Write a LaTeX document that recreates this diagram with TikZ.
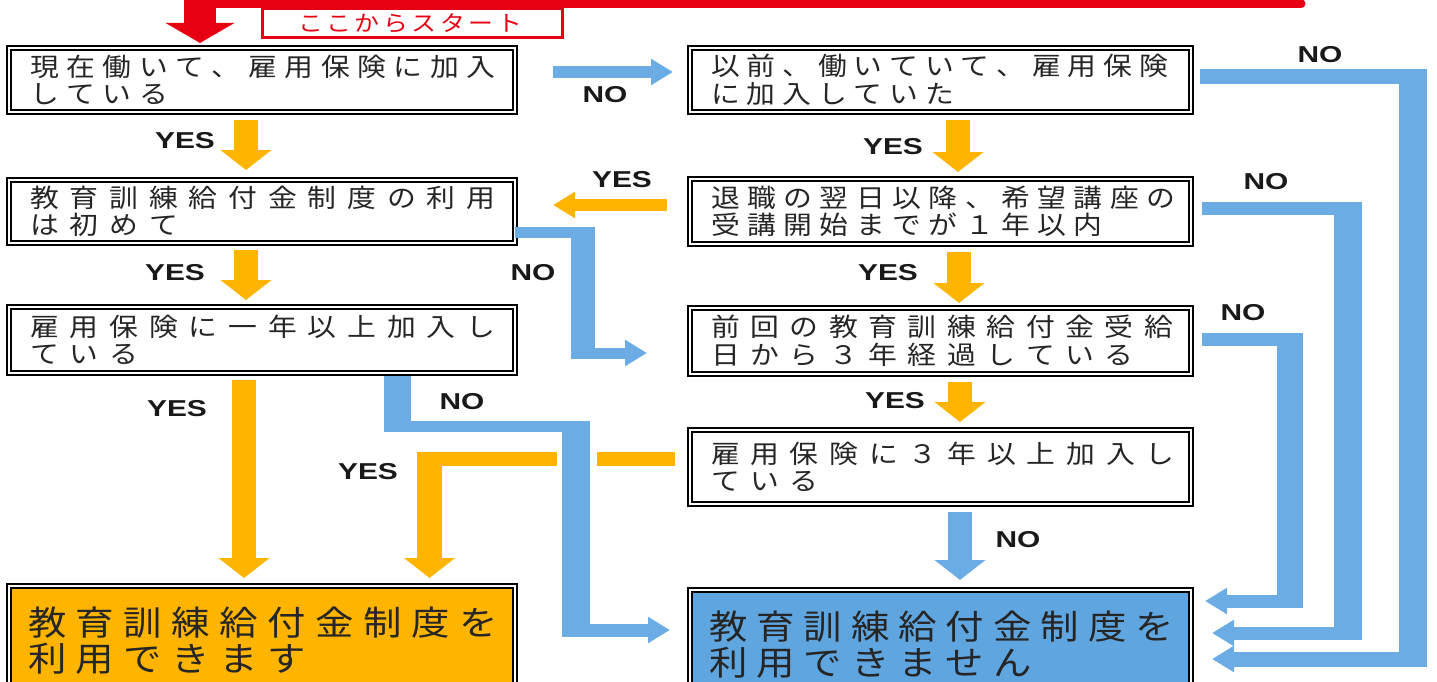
\documentclass[tikz,border=0pt]{standalone}
\usepackage{fontspec}
\usetikzlibrary{arrows.meta}

\newfontfamily\jfont[FakeStretch=1.13]{Noto Sans CJK JP}
\newfontfamily\lblfont[FakeStretch=1.3]{Liberation Sans}

\definecolor{jorange}{HTML}{FFB400}
\definecolor{jblue}{HTML}{6CACE4}
\definecolor{jbluebox}{HTML}{5FA5E0}
\definecolor{jred}{HTML}{E60012}

% characters at a fixed pitch (the boxes use wide letter spacing)
\makeatletter
\newcommand\pitched[2]{\leavevmode\@tfor\jch:=#2\do{\hbox to #1{\jch\hss}}}
\makeatother
\newcommand\qtext[3]{\pitched{#1}{#2}\\\pitched{#1}{#3}}

\tikzset{
  qbox/.style={draw, line width=1.2pt, outer sep=0pt, anchor=north west,
    inner xsep=19pt, inner ysep=0pt, align=left, text=black!85,
    font=\jfont\fontsize{25.5}{27.5}\selectfont},
  ansbox/.style={qbox, inner xsep=17pt, font=\jfont\fontsize{34}{36}\selectfont},
  lbl/.style={font=\lblfont\bfseries\fontsize{23}{23}\selectfont, text=black!90},
  yesline/.style={draw=jorange, line width=14pt},
  noline/.style={draw=jblue, line width=13pt},
  yesdown/.style={draw=jorange, line width=24pt, -{Triangle[width=50pt,length=20pt]}},
  nodown/.style={draw=jblue, line width=24pt, -{Triangle[width=50pt,length=20pt]}},
  yesarr/.style={yesline, line width=12pt, -{Triangle[width=25pt,length=22pt]}},
  noarr/.style={noline, -{Triangle[width=25pt,length=22pt]}},
}

\begin{document}
\begin{tikzpicture}[x=1pt, y=-1pt]
  \useasboundingbox (0,0) rectangle (1437,682);

  % Fragen (links)
  \node[qbox, text width=464pt, minimum height=60pt] (A) at (11,50)
    {\qtext{36.4pt}{現在働いて、雇用保険に加入}{している}};
  \node[qbox, text width=464pt, minimum height=59pt] (C) at (11,182)
    {\qtext{39.7pt}{教育訓練給付金制度の利用}{は初めて}};
  \node[qbox, text width=464pt, minimum height=62pt] (E) at (11,309)
    {\qtext{39.7pt}{雇用保険に一年以上加入し}{ている}};
  % Fragen (rechts)
  \node[qbox, text width=459pt, minimum height=60pt] (B) at (692,50)
    {\qtext{35.7pt}{以前、働いていて、雇用保険}{に加入していた}};
  \node[qbox, text width=459pt, minimum height=61pt] (D) at (692,181)
    {\qtext{36.3pt}{退職の翌日以降、希望講座の}{受講開始までが１年以内}};
  \node[qbox, text width=459pt, minimum height=62pt] (F) at (692,310)
    {\qtext{39.4pt}{前回の教育訓練給付金受給}{日から３年経過している}};
  \node[qbox, text width=459pt, minimum height=70pt] (G) at (692,432)
    {\qtext{39.5pt}{雇用保険に３年以上加入し}{ている}};
  % Ergebnisse
  \node[ansbox, fill=jorange, text width=468pt, minimum height=105pt] (H) at (11,588)
    {\qtext{48pt}{教育訓練給付金制度を}{利用できます}};
  \node[ansbox, fill=jbluebox, text width=463pt, minimum height=105pt] (I) at (692,592)
    {\qtext{47.4pt}{教育訓練給付金制度を}{利用できません}};

  % Doppelrahmen aussen
  \foreach \n in {A,B,C,D,E,F,G,H,I}
    \draw[line width=2.5pt] ([xshift=-4pt,yshift=4pt]\n.north west) rectangle ([xshift=4pt,yshift=-4pt]\n.south east);

  % ---- Start ----
  \draw[jred, line width=9pt, line cap=round] (200,4) -- (1301,4);
  \draw[jred, line width=32pt, -{Triangle[width=68pt,length=20pt]}] (200,0) -- ([xshift=-62pt,yshift=7pt]A.north);
  \node[draw=jred, line width=3pt, minimum width=300pt, minimum height=29pt, inner sep=0pt,
    text=jred, font=\jfont\fontsize{22}{22}\selectfont] (start) at (412,23) {\pitched{28.5pt}{ここからスタート}};

  % ---- YES (orange) ----
  \draw[yesdown] ([xshift=-16pt,yshift=-10pt]A.south) -- ([xshift=-16pt,yshift=12pt]C.north);
  \draw[yesdown] ([xshift=-16pt,yshift=-9pt]C.south) -- ([xshift=-16pt,yshift=9pt]E.north);
  \draw[yesdown] ([xshift=-18pt,yshift=-9pt]E.south) -- ([xshift=-18pt,yshift=10pt]H.north);
  \draw[yesdown] ([xshift=17.5pt,yshift=-10pt]B.south) -- ([xshift=17.5pt,yshift=9pt]D.north);
  \draw[yesdown] ([xshift=18.5pt,yshift=-10pt]D.south) -- ([xshift=18.5pt,yshift=7pt]F.north);
  \draw[yesdown] ([xshift=19.5pt,yshift=-10pt]F.south) -- ([xshift=19.5pt,yshift=10pt]G.north);
  \draw[yesarr] ([xshift=-25pt,yshift=6.5pt]D.west) -- ([xshift=40pt,yshift=6.5pt]C.east);
  % G -> H, unterbrochen am blauen Strang
  \draw[yesline] ([xshift=-17pt,yshift=8pt]G.west) -- (597,459);
  \draw[yesline] (557,459) -- (417,459);
  \draw[yesdown, line width=25pt] (429.5,452) -- ([xshift=167.5pt,yshift=10pt]H.north);

  % ---- NO (blau) ----
  \draw[nodown] ([xshift=19.5pt,yshift=-10pt]G.south) -- ([xshift=19.5pt,yshift=12pt]I.north);
  \draw[noarr, line width=12pt] ([xshift=40pt,yshift=8pt]A.east) -- ([xshift=-19pt,yshift=8pt]B.west);
  % B
  \draw[noline, line width=15pt] ([xshift=11pt,yshift=3pt]B.east) -- (1427,77);
  \draw[noline, line width=28pt] (1413,69.5) -- (1413,666.5);
  \draw[noarr, line width=15pt] (1427,659) -- ([xshift=23pt,yshift=-14.5pt]I.east);
  % D
  \draw[noline] ([xshift=13pt,yshift=3.5pt]D.east) -- (1362,208);
  \draw[noline, line width=28pt] (1348,201.5) -- (1348,639.5);
  \draw[noarr] (1362,633) -- ([xshift=23pt,yshift=11.5pt]I.east);
  % F
  \draw[noline] ([xshift=13pt,yshift=2pt]F.east) -- (1303,339);
  \draw[noline, line width=26pt] (1290,332.5) -- (1290,607.5);
  \draw[noarr] (1303,601) -- ([xshift=16pt,yshift=43.5pt]I.east);
  % C
  \draw[noline, line width=11pt] ([xshift=2pt,yshift=-20.5pt]C.east) -- (595,232);
  \draw[noline, line width=24pt] (583,226.5) -- (583,358.5);
  \draw[noarr, line width=11pt] (571,353) -- ([xshift=-45pt,yshift=-12pt]F.west);
  % E
  \draw[noline, line width=27pt] ([xshift=135pt,yshift=-5pt]E.south) -- (397,431.5);
  \draw[noline, line width=11pt] (383.5,426) -- (590,426);
  \draw[noline, line width=28pt] (576,420.5) -- (576,636.5);
  \draw[noarr] (562,630) -- ([xshift=-22pt,yshift=14.5pt]I.west);

  % ---- Beschriftungen ----
  \foreach \x/\y/\txt [count=\i] in {605/95/NO, 1320/55/NO, 185/141/YES, 893/147/YES,
      622/180/YES, 1266/182/NO, 175/273/YES, 533/273/NO, 888/273/YES, 1243/313/NO,
      177/409/YES, 462/402/NO, 895/401/YES, 368/472/YES, 1018/540/NO}
    \node[lbl] (lab\i) at (\x,\y) {\txt};
\end{tikzpicture}
\end{document}
